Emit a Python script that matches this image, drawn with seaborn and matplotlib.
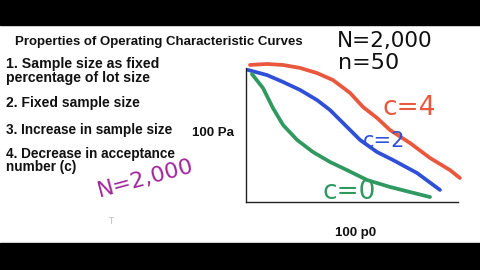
import matplotlib
matplotlib.use("Agg")
import matplotlib.pyplot as plt
import seaborn as sns
import pandas as pd
from matplotlib.patches import Rectangle

# data
red_x = [1.9, 9.9, 17.5, 25.5, 33.5, 41.0, 49.1, 55.2, 61.8, 67.9, 77.4, 86.8, 96.2, 100.9]
red_y = [96.5, 97.2, 96.5, 94.4, 90.8, 85.9, 76.8, 66.9, 59.2, 50.7, 41.5, 31.0, 22.5, 16.9]
blue_x = [0.9, 9.9, 17.5, 25.5, 33.5, 39.6, 45.8, 53.8, 61.8, 69.3, 80.7, 91.5]
blue_y = [93.0, 89.4, 84.5, 78.9, 71.8, 64.8, 55.6, 43.7, 35.2, 29.6, 20.4, 8.5]
green_x = [2.8, 8.0, 12.7, 17.5, 24.1, 31.6, 39.6, 47.6, 57.1, 67.9, 77.4, 86.8]
green_y = [90.1, 80.3, 66.2, 54.2, 43.7, 35.2, 28.2, 22.5, 15.5, 10.6, 7.0, 3.5]
series_labels = ["c=4", "c=2", "c=0"]
colors = {"c=4": "#e9573d", "c=2": "#2f4fd6", "c=0": "#2f9960"}

rows = []
for lab, xs, ys in zip(series_labels, [red_x, blue_x, green_x], [red_y, blue_y, green_y]):
    for i, (x, y) in enumerate(zip(xs, ys)):
        rows.append({"x": x, "y": y, "c": lab, "i": i})
df = pd.DataFrame(rows)

sns.set_theme(style="white")
plt.rcParams["font.family"] = ["Liberation Sans", "DejaVu Sans"]

fig = plt.figure(figsize=(4.8, 2.7), dpi=100)
fig.patch.set_facecolor("white")

def P(x, y):
    return (x / 480, 1 - y / 270)

# axes box: x 246..458, y 202 (0) .. 60 (100)
ax = fig.add_axes([246 / 480, 1 - 202 / 270, 212 / 480, 142 / 270])
sns.lineplot(data=df, x="x", y="y", hue="c", palette=colors, estimator=None,
             sort=False, units="c", linewidth=2.7, legend=False, ax=ax, clip_on=False)
for ln in ax.lines:
    ln.set_solid_capstyle("round")
    ln.set_solid_joinstyle("round")
ax.set_xlim(0, 100)
ax.set_ylim(0, 100)
ax.set_xticks([])
ax.set_yticks([])
ax.set_xlabel("")
ax.set_ylabel("")
ax.patch.set_alpha(0)
for s in ["top", "right"]:
    ax.spines[s].set_visible(False)
ax.spines["left"].set_bounds(0, 94.4)
for s in ["left", "bottom"]:
    ax.spines[s].set_color("#222222")
    ax.spines[s].set_linewidth(1.0)

# black video bars
fig.patches.append(Rectangle((0, 1 - 25 / 270), 1, 25 / 270, transform=fig.transFigure,
                             color="black", zorder=10))
fig.patches.append(Rectangle((0, 0), 1, 27 / 270, transform=fig.transFigure,
                             color="black", zorder=10))

bold = dict(fontweight="bold", color="#111111", va="center", ha="left")
fig.text(*P(15, 42), "Properties of Operating Characteristic Curves", fontsize=9.5, **bold)
fig.text(*P(6, 64), "1. Sample size as fixed", fontsize=10.2, **bold)
fig.text(*P(6, 78), "percentage of lot size", fontsize=10.2, **bold)
fig.text(*P(6, 103), "2. Fixed sample size", fontsize=10.0, **bold)
fig.text(*P(6, 130), "3. Increase in sample size", fontsize=9.8, **bold)
fig.text(*P(6, 154), "4. Decrease in acceptance", fontsize=9.8, **bold)
fig.text(*P(6, 167), "number (c)", fontsize=9.8, **bold)
fig.text(*P(192, 133), "100 Pa", fontsize=9.5, **bold)
fig.text(*P(335, 233), "100 p0", fontsize=9.5, **bold)

hand = dict(family=["DejaVu Sans"], fontweight="normal", ha="left")
fig.text(*P(337, 47), "N=2,000", fontsize=15.5, color="#111111", va="baseline", **hand)
fig.text(*P(338, 69), "n=50", fontsize=16, color="#111111", va="baseline", **hand)
fig.text(*P(383, 108), "c=4", fontsize=19, color="#e9573d", va="center", **hand)
fig.text(*P(363, 141), "c=2", fontsize=15, color="#2f4fd6", va="center", **hand)
fig.text(*P(322, 192), "c=0", fontsize=19, color="#2f9960", va="center", **hand)
fig.text(*P(95, 178), "N=2,000", fontsize=16, color="#a0279a", rotation=15, va="center", **hand)
fig.text(*P(108, 221), "T", fontsize=6, color="#bbbbbb", va="center", **hand)

fig.savefig("out.png", dpi=100, facecolor="white")
